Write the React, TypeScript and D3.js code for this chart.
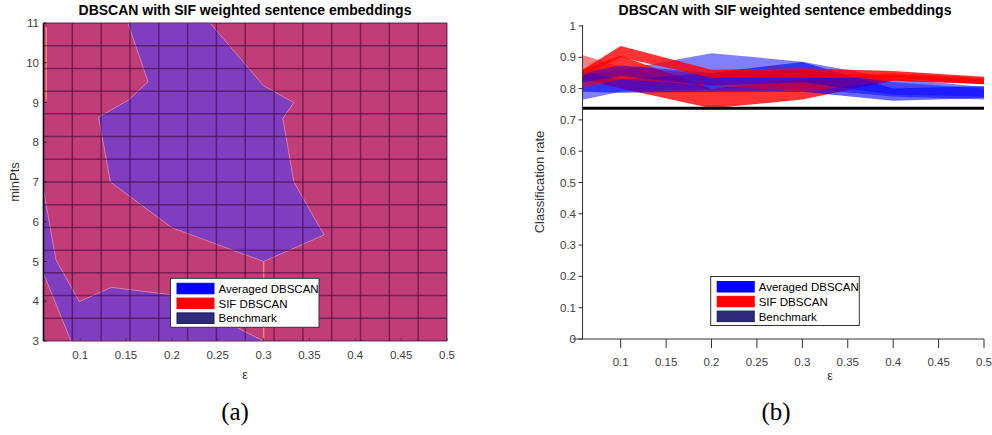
import React from "react";
import * as d3 from "d3";

// ---------- DATA ----------
const titleText = "DBSCAN with SIF weighted sentence embeddings";
const epsTickValues = [0.1, 0.15, 0.2, 0.25, 0.3, 0.35, 0.4, 0.45, 0.5];
const epsTickLabels = ["0.1", "0.15", "0.2", "0.25", "0.3", "0.35", "0.4", "0.45", "0.5"];
const minPtsTicks = [3, 4, 5, 6, 7, 8, 9, 10, 11];
const rateTicks = [0, 0.1, 0.2, 0.3, 0.4, 0.5, 0.6, 0.7, 0.8, 0.9, 1];
const rateTickLabels = ["0", "0.1", "0.2", "0.3", "0.4", "0.5", "0.6", "0.7", "0.8", "0.9", "1"];
const legendLabels = ["Averaged DBSCAN", "SIF DBSCAN", "Benchmark"];
const legendColors = ["#0000ff", "#ff0000", "#2e2a7c"];

// (a) regions where averaged DBSCAN wins: [eps, minPts]
const upperRegion: [number, number][] = [
  [0.152, 11], [0.2416, 11], [0.30, 9.42], [0.333, 9.0], [0.321, 8.6], [0.333, 7.0],
  [0.366, 5.67], [0.30, 5.0], [0.20, 5.85], [0.133, 7.0], [0.12, 8.63], [0.1525, 9.06], [0.174, 9.52],
];
const lowerRegion: [number, number][] = [
  [0.06, 6.8], [0.0736, 5.04], [0.099, 3.99], [0.134, 4.35], [0.20, 4.16], [0.30, 3.0],
  [0.09, 3.0], [0.06, 4.7],
];
const orangeSegments: [number, number, number][] = [
  [0.063, 9.05, 10.9],
  [0.30, 3.0, 5.0],
];

// (b) band data
const bandEps = [0.058, 0.1, 0.2, 0.3, 0.4, 0.5];
const blue1Lo = [0.764, 0.79, 0.80, 0.80, 0.775, 0.765];
const blue1Hi = [0.845, 0.86, 0.913, 0.886, 0.833, 0.805];
const blue2Lo = [0.79, 0.787, 0.79, 0.79, 0.761, 0.77];
const blue2Hi = [0.855, 0.83, 0.85, 0.885, 0.80, 0.808];
const blue3Lo = [0.82, 0.84, 0.81, 0.82, 0.78, 0.775];
const blue3Hi = [0.85, 0.875, 0.85, 0.86, 0.82, 0.80];
const red1Lo = [0.84, 0.90, 0.835, 0.835, 0.835, 0.814];
const red1Hi = [0.86, 0.936, 0.86, 0.865, 0.856, 0.838];
const red2Lo = [0.80, 0.83, 0.81, 0.79, 0.825, 0.815];
const red2Hi = [0.907, 0.87, 0.845, 0.84, 0.85, 0.835];
const red3Lo = [0.83, 0.80, 0.737, 0.765, 0.825, 0.815];
const red3Hi = [0.86, 0.905, 0.80, 0.83, 0.845, 0.83];
const benchmarkRate = 0.737;

const FONT = "'Liberation Sans', Arial, Helvetica, sans-serif";
const SERIF = "'Liberation Serif', 'DejaVu Serif', serif";
const TICK = "#404040";

export default function App() {
  // ----- left plot scales -----
  const xL = d3.scaleLinear().domain([0.06, 0.5]).range([43.5, 447]);
  const yL = d3.scaleLinear().domain([3, 11]).range([341, 23]);
  const gridE = d3.range(15).map((i) => 0.06 + (i * 0.44) / 14);
  const gridM = d3.range(15).map((i) => 3 + (i * 8) / 14);
  const polyL = (pts: [number, number][]) =>
    d3.line<[number, number]>().x((d) => xL(d[0])).y((d) => yL(d[1]))(pts) + "Z";

  // ----- right plot scales -----
  const xR = d3.scaleLinear().domain([0.1, 0.5]).range([620.7, 984]);
  const yR = d3.scaleLinear().domain([0, 1]).range([339, 26]);
  const area = (lo: number[], hi: number[]) =>
    d3
      .area<number>()
      .x((_, i) => xR(bandEps[i]))
      .y0((_, i) => yR(lo[i]))
      .y1((_, i) => yR(hi[i]))(bandEps.map((_, i) => i)) || "";
  const bands = [
    { lo: blue1Lo, hi: blue1Hi, c: "#0000ff", o: 0.5 },
    { lo: red3Lo, hi: red3Hi, c: "#ff0000", o: 0.8 },
    { lo: blue2Lo, hi: blue2Hi, c: "#0000ff", o: 0.6 },
    { lo: red2Lo, hi: red2Hi, c: "#ff0000", o: 0.5 },
    { lo: blue3Lo, hi: blue3Hi, c: "#0000ff", o: 0.45 },
    { lo: red1Lo, hi: red1Hi, c: "#ff0000", o: 0.8 },
  ];
  const axisX0 = xR(0.0475);
  const axisY = xR(bandEps[0]);

  const legend = (x: number, y: number, w: number) => (
    <g transform={`translate(${x},${y})`}>
      <rect x={0} y={0} width={w} height={49} fill="#fff" stroke="#333" strokeWidth={1} />
      {legendLabels.map((l, i) => (
        <g key={l} transform={`translate(0,${i * 14.8})`}>
          <rect
            x={6.5}
            y={5}
            width={37}
            height={10.5}
            fill={legendColors[i]}
            stroke={i === 2 ? "#1a1a4a" : legendColors[i]}
            strokeWidth={1}
          />
          <text x={48} y={14.5} fontSize={11.5} fontFamily={FONT} fill="#000">
            {l}
          </text>
        </g>
      ))}
    </g>
  );

  return (
    <svg
      width={992}
      height={435}
      style={{ position: "absolute", left: 0, top: 0, background: "#fff" }}
    >
      {/* ================= (a) ================= */}
      <rect x={xL(0.06)} y={yL(11)} width={xL(0.5) - xL(0.06)} height={yL(3) - yL(11)} fill="#c03d78" />
      <path d={polyL(upperRegion)} fill="#7f3dbf" stroke="#f4a0b8" strokeWidth={0.8} strokeOpacity={0.8} />
      <path d={polyL(lowerRegion)} fill="#7f3dbf" stroke="#f4a0b8" strokeWidth={0.8} strokeOpacity={0.8} />
      {orangeSegments.map(([e, m0, m1], i) => (
        <line key={i} x1={xL(e)} x2={xL(e)} y1={yL(m0)} y2={yL(m1)} stroke="#ff8068" strokeWidth={1.5} />
      ))}
      {gridE.map((e, i) => (
        <line key={"ge" + i} x1={xL(e)} x2={xL(e)} y1={yL(11)} y2={yL(3)} stroke="rgba(50,0,50,0.5)" strokeWidth={1.5} />
      ))}
      {gridM.map((m, i) => (
        <line key={"gm" + i} x1={xL(0.06)} x2={xL(0.5)} y1={yL(m)} y2={yL(m)} stroke="rgba(50,0,50,0.5)" strokeWidth={1.5} />
      ))}
      <line x1={xL(0.06)} x2={xL(0.06)} y1={yL(11)} y2={yL(3)} stroke="#111" strokeWidth={1.5} />
      {minPtsTicks.map((m) => (
        <g key={"mt" + m}>
          <line x1={xL(0.06)} x2={xL(0.06) + 3} y1={yL(m)} y2={yL(m)} stroke="#222" />
          <text x={39} y={yL(m) + 4} textAnchor="end" fontSize={11.5} fontFamily={FONT} fill={TICK}>
            {m}
          </text>
        </g>
      ))}
      {epsTickValues.map((e, i) => (
        <g key={"et" + i}>
          <line x1={xL(e)} x2={xL(e)} y1={yL(3)} y2={yL(3) - 3} stroke="#444" />
          <text x={xL(e)} y={359} textAnchor="middle" fontSize={11.5} fontFamily={FONT} fill={TICK}>
            {epsTickLabels[i]}
          </text>
        </g>
      ))}
      <text x={245} y={15} textAnchor="middle" fontSize={14} fontWeight="bold" fontFamily={FONT} fill="#000">
        {titleText}
      </text>
      <text x={245} y={379} textAnchor="middle" fontSize={12.5} fontFamily={FONT} fill="#333">
        ε
      </text>
      <text transform="translate(19,182) rotate(-90)" textAnchor="middle" fontSize={13} fontFamily={FONT} fill="#333">
        minPts
      </text>
      {legend(170.5, 278.3, 148.5)}
      <text x={235} y={420} textAnchor="middle" fontSize={25} fontFamily={SERIF} fill="#000">
        (a)
      </text>

      {/* ================= (b) ================= */}
      {bands.map((b, i) => (
        <path key={"b" + i} d={area(b.lo, b.hi)} fill={b.c} fillOpacity={b.o} />
      ))}
      <line x1={xR(bandEps[0])} x2={xR(0.5)} y1={yR(benchmarkRate)} y2={yR(benchmarkRate)} stroke="#000" strokeWidth={3} />
      {/* axes */}
      <line x1={axisY} x2={axisY} y1={yR(1) - 1} y2={yR(0)} stroke="#333" strokeWidth={1} />
      <line x1={axisX0} x2={xR(0.5)} y1={yR(0)} y2={yR(0)} stroke="#333" strokeWidth={1} />
      {rateTicks.map((v, i) => (
        <g key={"rt" + i}>
          <line x1={axisY - 4} x2={axisY} y1={yR(v)} y2={yR(v)} stroke="#333" />
          <text x={576} y={yR(v) + 4} textAnchor="end" fontSize={11.5} fontFamily={FONT} fill={TICK}>
            {rateTickLabels[i]}
          </text>
        </g>
      ))}
      {epsTickValues.map((e, i) => (
        <g key={"rx" + i}>
          <line x1={xR(e)} x2={xR(e)} y1={yR(0)} y2={yR(0) + 9} stroke="#333" />
          <text x={xR(e)} y={366} textAnchor="middle" fontSize={11.5} fontFamily={FONT} fill={TICK}>
            {epsTickLabels[i]}
          </text>
        </g>
      ))}
      <text x={785} y={15} textAnchor="middle" fontSize={14} fontWeight="bold" fontFamily={FONT} fill="#000">
        {titleText}
      </text>
      <text x={830} y={380} textAnchor="middle" fontSize={12.5} fontFamily={FONT} fill="#333">
        ε
      </text>
      <text transform="translate(544,182) rotate(-90)" textAnchor="middle" fontSize={13} fontFamily={FONT} fill="#333">
        Classification rate
      </text>
      {legend(710.7, 276.5, 148.6)}
      <text x={776} y={420} textAnchor="middle" fontSize={25} fontFamily={SERIF} fill="#000">
        (b)
      </text>
    </svg>
  );
}
